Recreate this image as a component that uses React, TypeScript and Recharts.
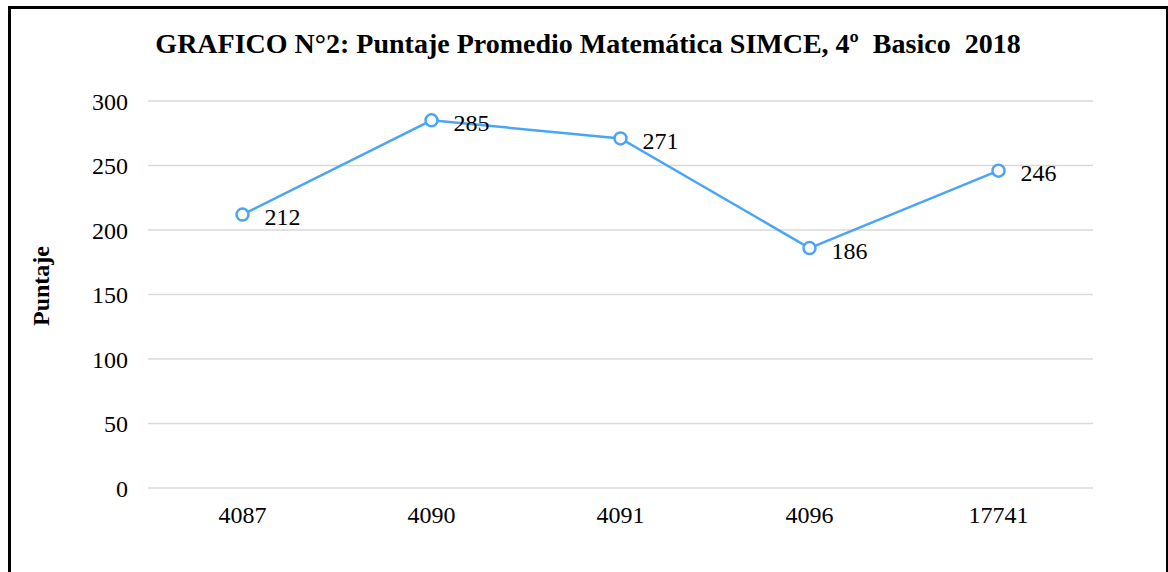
import { LineChart, Line, XAxis, YAxis, CartesianGrid, LabelList } from 'recharts'

const schools = ['4087', '4090', '4091', '4096', '17741']
const scores = [212, 285, 271, 186, 246]
const yTicks = [0, 50, 100, 150, 200, 250, 300]

const data = schools.map((school, i) => ({ school, score: scores[i] }))

const serif = '"Liberation Serif", "Times New Roman", serif'
const lineColor = '#4aa5f8'

export default function App() {
  return (
    <div style={{ position: 'absolute', left: 0, top: 0, width: 1168, height: 572, background: '#fff', overflow: 'hidden', fontFamily: serif }}>
      <div style={{
        position: 'absolute', left: 8, top: 6, width: 1168, height: 600,
        borderLeft: '3px solid #000', borderTop: '3px solid #000', boxSizing: 'border-box'
      }} />
      <div style={{ position: 'absolute', left: 1166, top: 6, width: 2, height: 566, background: '#000' }} />
      <div style={{
        position: 'absolute', left: 0, top: 28, width: 1176, textAlign: 'center',
        fontSize: 28, fontWeight: 'bold', color: '#000', whiteSpace: 'pre', lineHeight: '32px'
      }}>
        {'GRAFICO N°2: Puntaje Promedio Matemática SIMCE, 4º  Basico  2018'}
      </div>
      <div style={{
        position: 'absolute', left: 41, top: 286, transform: 'translate(-50%, -50%) rotate(-90deg)',
        fontSize: 24, fontWeight: 'bold', color: '#000', whiteSpace: 'nowrap'
      }}>
        Puntaje
      </div>
      <div style={{ position: 'absolute', left: 0, top: 0 }}>
        <LineChart
          width={1168}
          height={572}
          data={data}
          margin={{ top: 101, right: 75, left: 88, bottom: 54 }}
        >
          <CartesianGrid horizontal vertical={false} stroke="#d9d9d9" strokeWidth={1.5} />
          <XAxis
            dataKey="school"
            axisLine={false}
            tickLine={false}
            padding={{ left: 94.5, right: 94.5 }}
            height={30}
            tick={{ fill: '#000', fontSize: 24, fontFamily: serif }}
            tickMargin={12}
          />
          <YAxis
            domain={[0, 300]}
            ticks={yTicks}
            axisLine={false}
            tickLine={false}
            width={60}
            tick={{ fill: '#000', fontSize: 24, fontFamily: serif }}
            tickMargin={14}
          />
          <Line
            type="linear"
            dataKey="score"
            stroke={lineColor}
            strokeWidth={2.5}
            dot={{ r: 6, fill: '#fff', stroke: lineColor, strokeWidth: 2.5 }}
            isAnimationActive={false}
          >
            <LabelList
              dataKey="score"
              position="right"
              offset={22}
              dy={2}
              fill="#000"
              fontSize={24}
              fontFamily={serif}
            />
          </Line>
        </LineChart>
      </div>
    </div>
  )
}
